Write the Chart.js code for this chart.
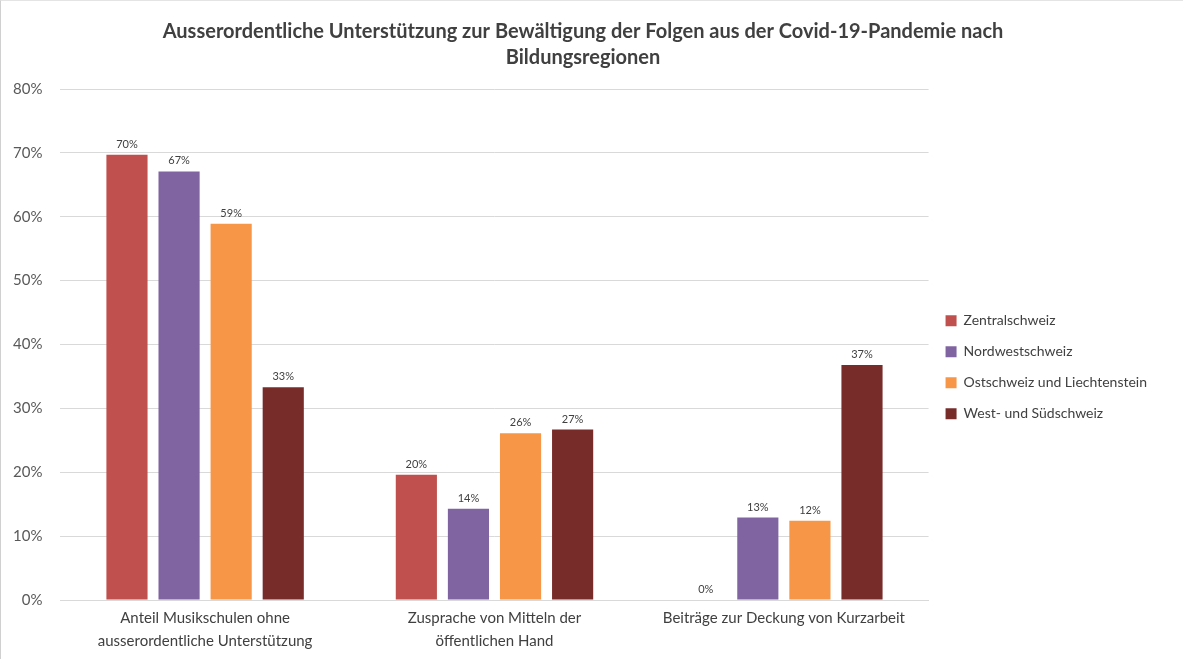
<!DOCTYPE html>
<html>
<head>
<meta charset="utf-8">
<script src="https://cdn.jsdelivr.net/npm/chart.js@4.4.1/dist/chart.umd.min.js"></script>
<style>
  html, body { margin: 0; padding: 0; background: #fff; }
  #wrap { width: 1183px; height: 659px; position: relative; box-sizing: border-box;
          border-left: 1px solid #d0d0d0; border-top: 1px solid #e4e4e4; }
</style>
</head>
<body>
<div id="wrap"><canvas id="chart" width="1182" height="658"></canvas></div>
<script>
const categories = [
  ['Anteil Musikschulen ohne', 'ausserordentliche Unterstützung'],
  ['Zusprache von Mitteln der', 'öffentlichen Hand'],
  ['Beiträge zur Deckung von Kurzarbeit']
];
const regions = ['Zentralschweiz', 'Nordwestschweiz', 'Ostschweiz und Liechtenstein', 'West- und Südschweiz'];
const zentral = [69.7, 19.6, 0];
const nordwest = [67.1, 14.3, 12.9];
const ost = [58.9, 26.1, 12.4];
const westSued = [33.3, 26.7, 36.8];
const colors = ['#c0504d', '#8064a2', '#f79646', '#772c2a'];

const FONT = 'Lato, "Open Sans", sans-serif';

// Prozentwerte über den Balken
const valueLabels = {
  id: 'valueLabels',
  afterDatasetsDraw(chart) {
    const ctx = chart.ctx;
    ctx.save();
    ctx.font = '11px ' + FONT;
    ctx.fillStyle = '#404040';
    ctx.textAlign = 'center';
    ctx.textBaseline = 'bottom';
    chart.data.datasets.forEach((ds, i) => {
      chart.getDatasetMeta(i).data.forEach((bar, j) => {
        ctx.fillText(Math.round(ds.data[j]) + '%', bar.x, bar.y - 5);
      });
    });
    ctx.restore();
  }
};

const series = [zentral, nordwest, ost, westSued];
new Chart(document.getElementById('chart'), {
  type: 'bar',
  data: {
    labels: categories,
    datasets: series.map((d, i) => ({
      label: regions[i],
      data: d,
      backgroundColor: colors[i],
      borderWidth: 0,
      categoryPercentage: 0.72,
      barPercentage: 0.79
    }))
  },
  options: {
    responsive: false,
    animation: false,
    layout: { padding: { left: 8, right: 26, top: 0, bottom: 0 } },
    plugins: {
      title: {
        display: true,
        text: ['Ausserordentliche Unterstützung zur Bewältigung der Folgen aus der Covid-19-Pandemie nach', 'Bildungsregionen'],
        color: '#404040',
        font: { family: FONT, size: 20, weight: 'bold', lineHeight: 1.3 },
        padding: { top: 18, bottom: 18 }
      },
      legend: {
        position: 'right',
        title: { display: true, text: ' ', padding: { top: 0, bottom: 60 } },
        labels: {
          boxWidth: 11, boxHeight: 11,
          padding: 17,
          color: '#404040',
          font: { family: FONT, size: 14 }
        }
      },
      tooltip: { enabled: false }
    },
    scales: {
      x: {
        grid: { display: false, drawTicks: false },
        border: { color: '#d9d9d9' },
        ticks: { color: '#404040', font: { family: FONT, size: 15, lineHeight: 1.5 }, maxRotation: 0, padding: 7 }
      },
      y: {
        min: 0, max: 80,
        border: { display: false },
        grid: { color: '#d9d9d9', tickLength: 14, tickColor: '#fff' },
        ticks: {
          stepSize: 10,
          color: '#595959',
          font: { family: FONT, size: 15 },
          padding: 4,
          callback: v => v + '%'
        }
      }
    }
  },
  plugins: [valueLabels]
});
</script>
</body>
</html>
